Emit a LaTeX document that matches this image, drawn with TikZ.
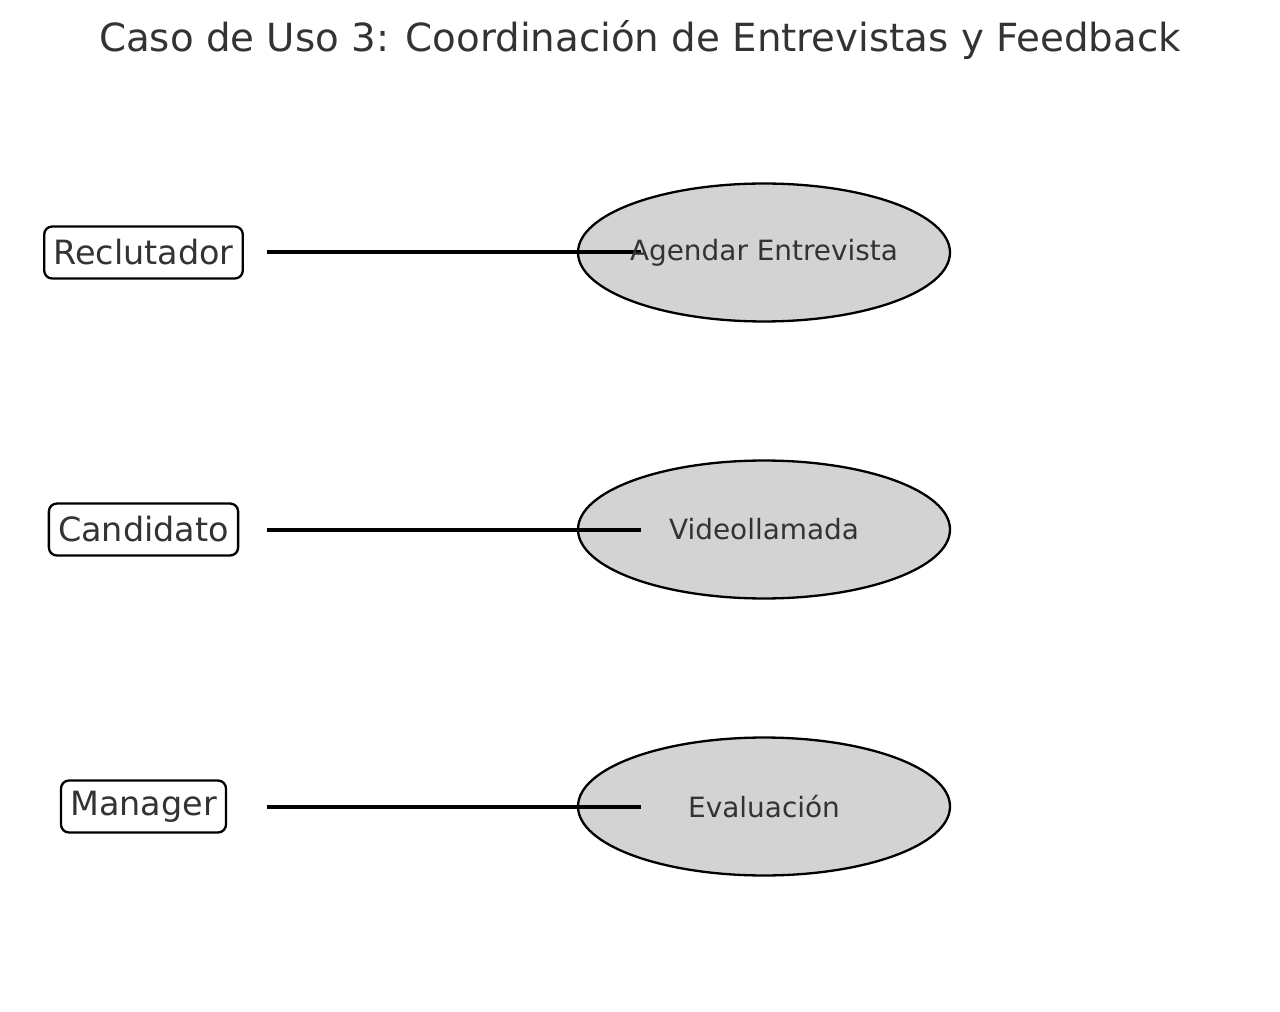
\documentclass[tikz,border=0pt]{standalone}
\usepackage{fontspec}
\setmainfont{DejaVu Sans}
\usetikzlibrary{shapes.geometric}
\definecolor{txtgray}{HTML}{333333}
\definecolor{casefill}{HTML}{D3D3D3}

\begin{document}
\begin{tikzpicture}[x=0.5625pt,y=-0.5625pt,
actor/.style={draw=black, line width=1.3pt, rounded corners=4.5pt, text=txtgray, font=\fontsize{18.8}{22}\selectfont, inner xsep=5.2pt, minimum height=29.25pt},
usecase/.style={ellipse, draw=black, fill=casefill, line width=1.3pt, minimum width=209.25pt, minimum height=77.6pt, inner sep=0pt},
casetext/.style={text=txtgray, font=\fontsize{15.7}{18}\selectfont},
assoc/.style={line width=2.25pt, black}]
\useasboundingbox (0,0) rectangle (1280,1012);
\node[text=txtgray, font=\fontsize{21.8}{26}\selectfont] (titulo) at (640,40) {Caso de Uso 3: Coordinación de Entrevistas y Feedback};
\node[actor] (reclutador) at (143.5,252.5) {Reclutador};
\node[actor] (candidato) at (143.5,529.5) {Candidato};
\node[actor] (manager) at (143.5,806.5) {Manager};
\node[usecase] (agendar) at (764,252.5) {};
\node[usecase] (videollamada) at (764,529.5) {};
\node[usecase] (evaluacion) at (764,806.5) {};
\coordinate (reclutadorA) at (267,252.5);
\coordinate (candidatoA) at (267,529.5);
\coordinate (managerA) at (267,806.5);
\coordinate (agendarB) at (641,252.5);
\coordinate (videollamadaB) at (641,529.5);
\coordinate (evaluacionB) at (641,806.5);
\draw[assoc] (reclutadorA) -- (agendarB);
\draw[assoc] (candidatoA) -- (videollamadaB);
\draw[assoc] (managerA) -- (evaluacionB);
\node[casetext] (agendarT) at (agendar.center) {Agendar Entrevista};
\node[casetext] (videollamadaT) at (videollamada.center) {Videollamada};
\node[casetext] (evaluacionT) at (evaluacion.center) {Evaluación};
\end{tikzpicture}
\end{document}
